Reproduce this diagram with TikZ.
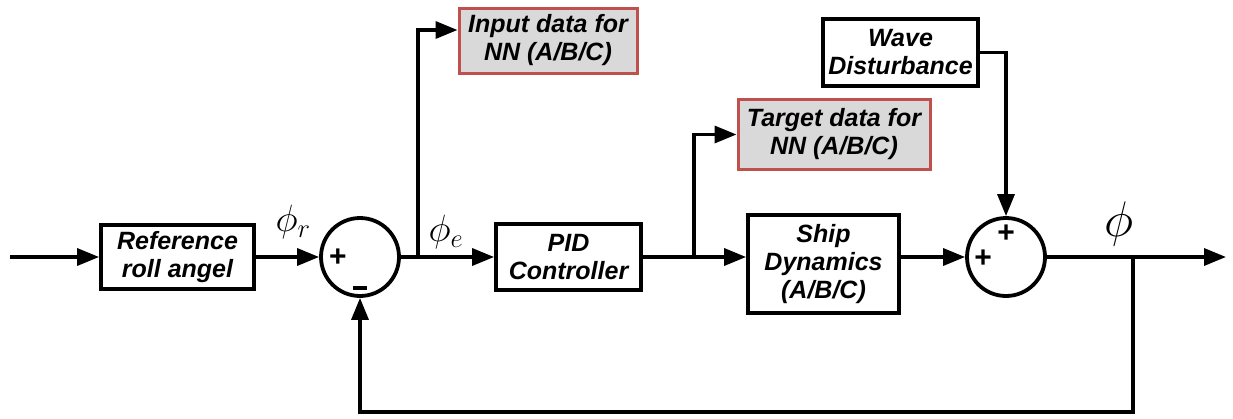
\RequirePackage{fix-cm}
\documentclass[tikz,border=0pt]{standalone}
\usepackage{fontspec}
\setmainfont{Liberation Sans}
\usetikzlibrary{arrows.meta}
\definecolor{nnred}{HTML}{C0504D}
\definecolor{nnfill}{HTML}{D9D9D9}
\tikzset{
  blocktext/.style={font=\fontsize{25}{28}\selectfont\bfseries\itshape, align=center, inner sep=0pt},
  block/.style={blocktext, draw=black, line width=3.8pt, rectangle},
  nnbox/.style={blocktext, draw=nnred, fill=nnfill, line width=3pt, rectangle},
  sumnode/.style={draw=black, circle, line width=3.8pt, minimum size=78pt, inner sep=0pt},
  sign/.style={font=\fontsize{30}{30}\selectfont\bfseries, inner sep=0pt},
  arr/.style={line width=3.4pt, -{Triangle[length=22pt,width=17pt]}},
  siglabel/.style={inner sep=0pt, font=\fontsize{38}{38}\selectfont}
}
\begin{document}
\begin{tikzpicture}[x=1pt,y=-1pt]
  \useasboundingbox (0,0) rectangle (1233,418);

  % blocks
  \node[block, minimum width=153pt, minimum height=64pt] (ref) at (177.5,257) {Reference\\roll angel};
  \node[block, minimum width=145pt, minimum height=66pt] (pid) at (568.5,257) {PID\\Controller};
  \node[block, minimum width=151pt, minimum height=98pt] (ship) at (823.5,264) {Ship\\Dynamics\\(A/B/C)};
  \node[block, minimum width=155pt, minimum height=67pt] (wave) at (900.5,52.5) {Wave\\Disturbance};
  \node[nnbox, minimum width=178pt, minimum height=65pt] (inp) at (548,40.5) {Input data for\\NN (A/B/C)};
  \node[nnbox, minimum width=192pt, minimum height=70pt] (tgt) at (834,134.5) {Target data for\\NN (A/B/C)};

  % summing junctions
  \node[sumnode] (s1) at (360,257) {};
  \node[sumnode] (s2) at (1006,257) {};
  \node[sign] (s1p) at (338,258) {+};
  \node[sign] (s1m) at (360,288) {\rule{14pt}{3.6pt}};
  \node[sign] (s2p) at (983,259) {+};
  \node[sign] (s2q) at (1006,234) {+};

  % signal labels
  \node[siglabel] (lr) at (293,222) {$\phi_r$};
  \node[siglabel] (le) at (446,232) {$\phi_e$};
  \node[siglabel, font=\fontsize{50}{50}\selectfont] (lo) at (1119,224) {$\phi$};

  % free ends and branch points
  \coordinate (in) at (10,257);
  \coordinate (b1) at (418,257);
  \coordinate (b2) at (694,257);
  \coordinate (b3) at (1133,257);
  \coordinate (out) at (1226,257);
  \coordinate (fb) at (1133,412);

  % forward path
  \draw[arr] (in) -- (ref.west);
  \draw[arr] (ref.east) -- (s1.west);
  \draw[arr] (s1.east) -- (pid.west);
  \draw[arr] (pid.east) -- (ship.west |- pid.east);
  \draw[arr] (ship.east |- s2.west) -- (s2.west);
  \draw[arr] (s2.east) -- (out);

  % data taps for the network
  \draw[arr] (b1) |- ([yshift=10.5pt]inp.west);
  \draw[arr] (b2) |- (tgt.west);

  % disturbance input
  \draw[arr] (wave.east) -| (s2.north);

  % feedback
  \draw[arr] (b3) -- (fb) -| (s1.south);
\end{tikzpicture}
\end{document}
